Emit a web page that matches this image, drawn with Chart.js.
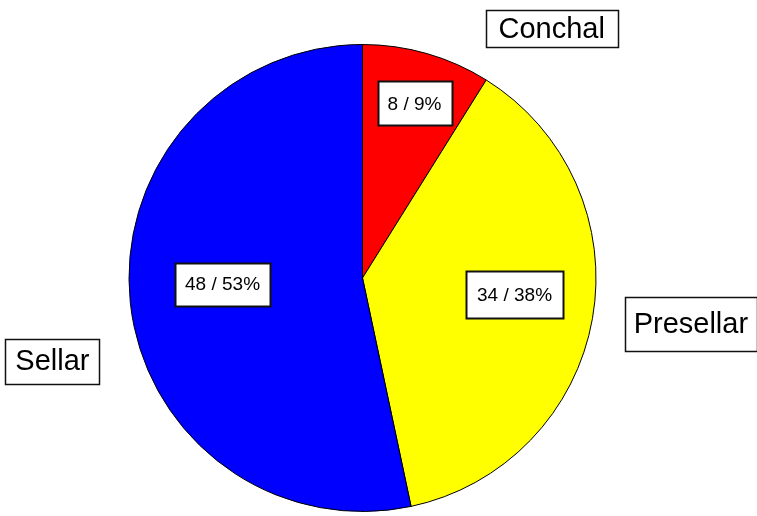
<!DOCTYPE html>
<html>
<head>
<meta charset="utf-8">
<script src="https://cdn.jsdelivr.net/npm/chart.js@4"></script>
<style>
html,body{margin:0;padding:0;background:#fff;}
#wrap{width:757px;height:516px;position:relative;}
</style>
</head>
<body>
<div id="wrap"><canvas id="c" width="757" height="516"></canvas></div>
<script>
const categories = ["Conchal", "Presellar", "Sellar"];
const counts = [8, 34, 48];
const percentLabels = ["8 / 9%", "34 / 38%", "48 / 53%"];
const sliceColors = ["#FF0000", "#FFFF00", "#0000FF"];

// label placement relative to each slice (angle shift from slice middle in degrees, radius fraction)
const innerPlacement = [[0.6, 0.78], [-3.8, 0.655], [3.5, 0.60]];
const outerPlacement = [[21.2, 1.34], [-2, 1.42], [-9, 1.375]];
// box styling: [horizontal padding, height]
const innerBox = [[10, 44], [11, 47], [10, 43]];
const outerBox = [[13, 37], [9, 54], [10, 45]];

const labelPlugin = {
  id: 'boxLabels',
  afterDatasetsDraw(chart) {
    const ctx = chart.ctx;
    const meta = chart.getDatasetMeta(0);
    const drawBox = (text, cx, cy, font, padX, h, lw) => {
      ctx.save();
      ctx.font = font;
      const w = Math.round(ctx.measureText(text).width + padX * 2);
      const x = Math.round(cx - w / 2), y = Math.round(cy - h / 2);
      ctx.fillStyle = '#fff';
      ctx.fillRect(x, y, w, h);
      ctx.strokeStyle = '#111';
      ctx.lineWidth = lw;
      ctx.strokeRect(x + 0.5, y + 0.5, w, h);
      ctx.fillStyle = '#000';
      ctx.textAlign = 'center';
      ctx.textBaseline = 'middle';
      ctx.fillText(text, cx, cy + 1);
      ctx.restore();
    };
    meta.data.forEach((arc, i) => {
      const mid = (arc.startAngle + arc.endAngle) / 2;
      const r = arc.outerRadius;
      const a1 = mid + innerPlacement[i][0] * Math.PI / 180;
      const f1 = innerPlacement[i][1];
      drawBox(percentLabels[i], arc.x + Math.cos(a1) * r * f1, arc.y + Math.sin(a1) * r * f1,
        '19px "Liberation Sans", Arial, sans-serif', innerBox[i][0], innerBox[i][1], 2);
      const a2 = mid + outerPlacement[i][0] * Math.PI / 180;
      const f2 = outerPlacement[i][1];
      drawBox(categories[i], arc.x + Math.cos(a2) * r * f2, arc.y + Math.sin(a2) * r * f2,
        '29px "Liberation Sans", Arial, sans-serif', outerBox[i][0], outerBox[i][1], 1.5);
    });
  }
};

new Chart(document.getElementById('c'), {
  type: 'pie',
  data: {
    labels: categories,
    datasets: [{
      data: counts,
      backgroundColor: sliceColors,
      borderColor: '#000',
      borderWidth: 1
    }]
  },
  options: {
    responsive: false,
    animation: false,
    layout: { padding: { top: 44, bottom: 4, left: 128.5, right: 160.5 } },
    plugins: { legend: { display: false }, tooltip: { enabled: false } }
  },
  plugins: [labelPlugin]
});
</script>
</body>
</html>
